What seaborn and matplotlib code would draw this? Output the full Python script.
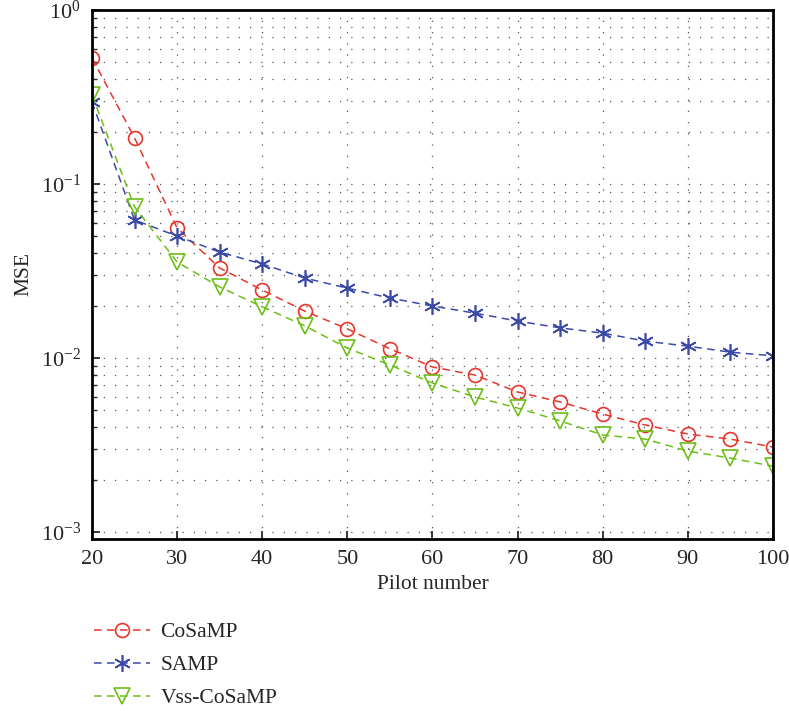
import numpy as np
import pandas as pd
import matplotlib
matplotlib.use("Agg")
import matplotlib.pyplot as plt
import seaborn as sns
from matplotlib.ticker import LogLocator, NullFormatter

pilots = [20, 25, 30, 35, 40, 45, 50, 55, 60, 65, 70, 75, 80, 85, 90, 95, 100]
cosamp = [0.53, 0.184, 0.0558, 0.0329, 0.0246, 0.0186, 0.0147, 0.0113, 0.00888, 0.00798,
          0.00638, 0.00559, 0.00476, 0.00412, 0.00366, 0.00342, 0.00308]
samp = [0.296, 0.0621, 0.0502, 0.0406, 0.0347, 0.0288, 0.0252, 0.0221, 0.0199, 0.0181,
        0.0163, 0.0149, 0.0139, 0.0125, 0.0117, 0.0108, 0.0103]
vss = [0.325, 0.0738, 0.0356, 0.0256, 0.0197, 0.0153, 0.0114, 0.00912, 0.00718, 0.00597,
       0.00516, 0.00435, 0.00361, 0.00342, 0.00292, 0.00266, 0.00239]
labels = ["CoSaMP", "SAMP", "Vss-CoSaMP"]

sns.set_style("white")
plt.rcParams['font.family'] = ['Liberation Serif', 'DejaVu Serif']
plt.rcParams['mathtext.fontset'] = 'stix'

fig = plt.figure(figsize=(7.89, 7.11), dpi=100)
ax = fig.add_axes([0.1166, 0.2419, 0.8631, 0.7441])

styles = [
    (cosamp, "#e8352c", dict(marker="o", markersize=10)),
    (samp, "#3c49a6", dict(marker=(6, 2, 0), markersize=12)),
    (vss, "#6cbf17", dict(marker="v", markersize=11)),
]
for (vals, col, mk), lab in zip(styles, labels):
    df = pd.DataFrame({"x": pilots, "y": vals})
    sns.lineplot(data=df, x="x", y="y", ax=ax, color=col, label=lab,
                 linestyle=(0, (5, 3.5)), linewidth=1.1,
                 markerfacecolor="none", markeredgecolor=col, markeredgewidth=1.2,
                 **mk)

ax.set_yscale("log")
ax.set_xlim(20, 100)
ax.set_ylim(10 ** -3.04, 1.0)
ax.set_xticks(range(20, 101, 10))
ax.yaxis.set_major_locator(LogLocator(base=10, numticks=10))
ax.yaxis.set_minor_locator(LogLocator(base=10, subs=np.arange(2, 10), numticks=10))
ax.yaxis.set_minor_formatter(NullFormatter())

ax.grid(True, which="major", axis="both", linestyle=(0, (1, 8)), color="#555555", linewidth=0.9)
ax.grid(True, which="minor", axis="y", linestyle=(0, (1, 8)), color="#555555", linewidth=0.9)

for s in ax.spines.values():
    s.set_linewidth(2.0)
    s.set_color("black")

ax.tick_params(axis="both", which="major", direction="in", length=6, width=1.3,
               labelsize=16, bottom=True, left=True, top=False, right=False, pad=8)
ax.tick_params(axis="y", which="minor", direction="in", length=3.5, width=1.0,
               left=True, right=False)
ax.set_xlabel("Pilot number", fontsize=15.5, labelpad=4)
ax.set_ylabel("MSE", fontsize=15.5, labelpad=5)

leg = ax.legend(loc="upper left", bbox_to_anchor=(0.108, 0.137), bbox_transform=fig.transFigure,
                frameon=False, fontsize=15.5, handlelength=2.6, labelspacing=0.6,
                borderaxespad=0, handletextpad=0.5)

fig.savefig("out.png", dpi=100)
